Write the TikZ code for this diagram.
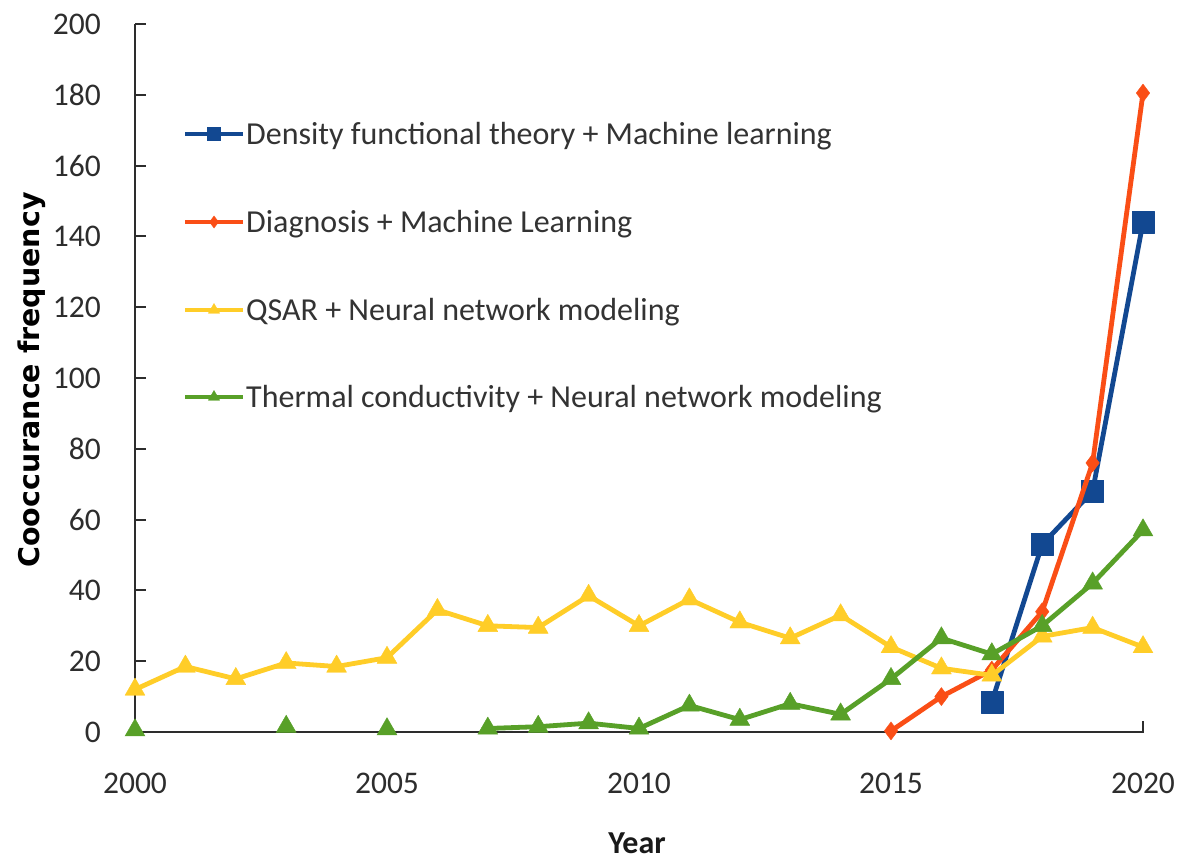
\documentclass[tikz,border=0pt]{standalone}
\usepackage{fontspec}
\setmainfont{Carlito}
\newfontfamily\labfont{DejaVu Sans}
\usetikzlibrary{plotmarks}
\definecolor{dftblue}{RGB}{18,72,145}
\definecolor{diagred}{RGB}{250,78,22}
\definecolor{qsaryel}{RGB}{255,205,40}
\definecolor{thgreen}{RGB}{88,160,40}
\definecolor{axisgray}{RGB}{45,45,45}
\begin{document}
\begin{tikzpicture}[x=1pt,y=-1pt,
  axisline/.style={draw=axisgray,line width=2pt},
  ticklab/.style={font=\fontsize{31.5}{36}\selectfont,text=axisgray,inner sep=0pt},
  legtext/.style={font=\fontsize{32}{37}\selectfont,text=black!80,inner sep=0pt,anchor=base west},
  serline/.style={line width=4.8pt,line join=round,line cap=round},
  bluemk/.style={mark=square*,mark options={fill=dftblue,draw=dftblue,line width=0.4pt}},
  redmk/.style={mark=diamond*,mark options={fill=diagred,draw=diagred,line width=0.4pt}},
  yelmk/.style={mark=triangle*,mark options={fill=qsaryel,draw=qsaryel,line width=0.4pt}},
  grnmk/.style={mark=triangle*,mark options={fill=thgreen,draw=thgreen,line width=0.4pt}}]
\useasboundingbox[fill=white] (0,0) rectangle (1181,859);
% axes
\draw[axisline] (135,24) -- (135,732) -- (1143,732) -- (1143,721);
\foreach \v in {0,20,...,200}{
  \draw[axisline] (135,{732-3.54*\v}) -- (146,{732-3.54*\v});
  \node[ticklab,anchor=east] (yl\v) at (101,{732-3.54*\v}) {\v};
}
\foreach \yr/\dx in {2000/0,2005/5,2010/10,2015/15,2020/20}{
  \node[ticklab] (xl\yr) at ({135+50.4*\dx},783) {\yr};
}
\node[font=\labfont\bfseries\fontsize{28.5}{32}\selectfont,text=black,rotate=90,inner sep=0pt] (ylab) at (32,380) {Cooccurance frequency};
\node[font=\bfseries\fontsize{32}{36}\selectfont,text=black!90,inner sep=0pt,anchor=base] (xlab) at (637,853) {Year};
% data
\begin{scope}[shift={(135,732)}]
\begin{scope}[x=50.4pt,y=3.54pt]
\draw[serline,draw=dftblue] plot[bluemk,mark size=11pt] coordinates {(17,8.5) (18,53) (19,68) (20,144)};
\draw[serline,draw=diagred] plot[redmk,mark size=9pt] coordinates {(15,0.3) (16,10) (17,17.5) (18,34) (19,76) (20,180.5)};
\draw[serline,draw=qsaryel] plot[yelmk,mark size=11.5pt] coordinates {(0,12) (1,18.5) (2,15) (3,19.5) (4,18.5) (5,21) (6,34.5) (7,30) (8,29.5) (9,38.5) (10,30) (11,37.5) (12,31) (13,26.5) (14,33) (15,24) (16,18) (17,16) (18,27) (19,29.5) (20,24)};
\path plot[grnmk,mark size=11.5pt] coordinates {(0,0.5) (3,1.5) (5,0.8)};
\draw[serline,draw=thgreen] plot[grnmk,mark size=11.5pt] coordinates {(7,1) (8,1.5) (9,2.5) (10,1) (11,7.5) (12,3.5) (13,8) (14,5) (15,15) (16,26.5) (17,22) (18,30) (19,42) (20,57)};
\end{scope}
\end{scope}
% legend
\draw[serline,line cap=butt,draw=dftblue] (185,134) -- (243,134);
\path plot[bluemk,mark size=6.5pt] coordinates {(214,134)};
\node[legtext] (leg1) at (246,144) {Density functional theory + Machine learning};
\draw[serline,line cap=butt,draw=diagred] (185,222) -- (243,222);
\path plot[redmk,mark size=6pt] coordinates {(214,222)};
\node[legtext] (leg2) at (246,232) {Diagnosis + Machine Learning};
\draw[serline,line cap=butt,draw=qsaryel] (185,310) -- (243,310);
\path plot[yelmk,mark size=6.5pt] coordinates {(214,310)};
\node[legtext] (leg3) at (246,320) {QSAR + Neural network modeling};
\draw[serline,line cap=butt,draw=thgreen] (185,397) -- (243,397);
\path plot[grnmk,mark size=6.5pt] coordinates {(214,397)};
\node[legtext] (leg4) at (246,407) {Thermal conductivity + Neural network modeling};
\end{tikzpicture}
\end{document}
